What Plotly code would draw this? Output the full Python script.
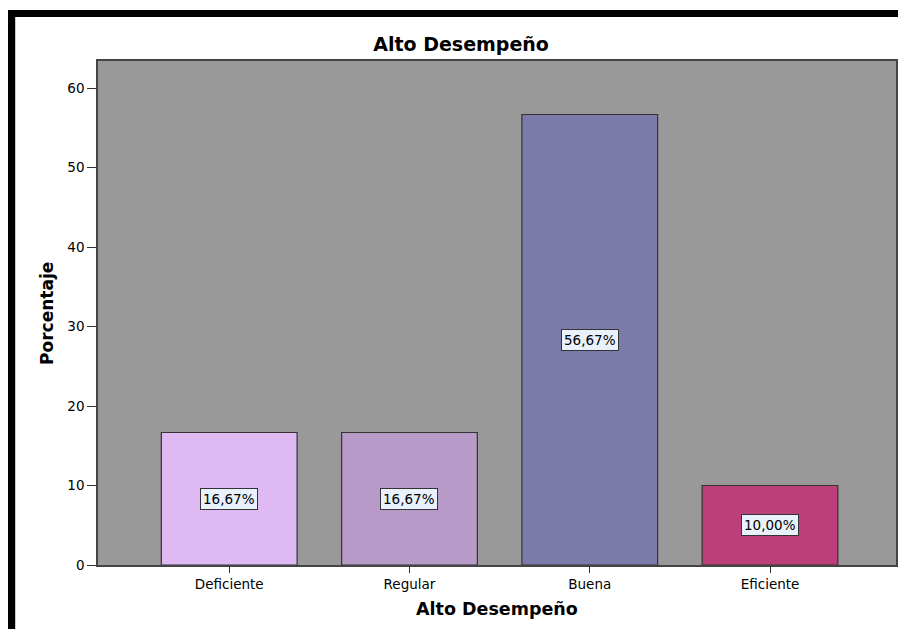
import plotly.graph_objects as go

categories = ["Deficiente", "Regular", "Buena", "Eficiente"]
percentages = [16.67, 16.67, 56.67, 10.00]
bar_colors = ["#dfb9f2", "#b89ac8", "#7b7ba9", "#bc3f79"]
labels = ["16,67%", "16,67%", "56,67%", "10,00%"]

FONT = "DejaVu Sans, Arial"

fig = go.Figure()
fig.add_trace(go.Bar(
    x=categories, y=percentages,
    marker=dict(color=bar_colors, line=dict(color="#333333", width=1.2)),
    hoverinfo="x+y",
))

# value boxes in the middle of each bar
for cat, val, lab in zip(categories, percentages, labels):
    fig.add_annotation(
        x=cat, y=val / 2, text=lab, showarrow=False,
        font=dict(family=FONT, size=13.5, color="#000000"),
        bgcolor="#e8f1fc", bordercolor="#333333", borderwidth=1, borderpad=2,
    )

# axis titles
fig.add_annotation(
    x=-0.064, y=0.5, xref="paper", yref="paper", text="<b>Porcentaje</b>",
    textangle=-90, showarrow=False, xanchor="center", yanchor="middle",
    font=dict(family=FONT, size=17, color="#000000"),
)
fig.add_annotation(
    x=0.5, y=-0.088, xref="paper", yref="paper", text="<b>Alto Desempeño</b>",
    showarrow=False, xanchor="center", yanchor="middle",
    font=dict(family=FONT, size=17.5, color="#000000"),
)

# black frame on top and left of the image
fig.add_shape(type="rect", xref="paper", yref="paper",
              x0=-0.11375, x1=1.05, y0=1.0873, y1=1.1012,
              fillcolor="#000000", line=dict(width=0))
fig.add_shape(type="rect", xref="paper", yref="paper",
              x0=-0.11375, x1=-0.10375, y0=-0.2, y1=1.1012,
              fillcolor="#000000", line=dict(width=0))

# page body adds an 8px margin, so the figure is kept inside the window
fig.update_layout(
    width=890, height=621,
    margin=dict(l=90, r=0, t=53, b=64),
    paper_bgcolor="#ffffff", plot_bgcolor="#999999",
    bargap=0.247, showlegend=False,
    font=dict(family=FONT, size=13.5, color="#000000"),
    title=dict(text="<b>Alto Desempeño</b>", xref="paper", x=0.455,
               xanchor="center", yref="container", y=0.941, yanchor="middle",
               font=dict(family=FONT, size=19, color="#000000")),
)
fig.update_xaxes(
    type="category", range=[-0.728, 3.699],
    showline=True, linecolor="#444444", linewidth=1.5, mirror=True,
    ticks="outside", ticklen=6, tickcolor="#333333", tickwidth=1.2,
    showgrid=False, zeroline=False,
    tickfont=dict(family=FONT, size=13.5, color="#000000"),
)
fig.update_yaxes(
    range=[0, 63.4], tickvals=[0, 10, 20, 30, 40, 50, 60],
    showline=True, linecolor="#444444", linewidth=1.5, mirror=True,
    ticks="outside", ticklen=9, tickcolor="#333333", tickwidth=1.2,
    showgrid=False, zeroline=False,
    tickfont=dict(family=FONT, size=13.5, color="#000000"),
)

fig.write_html("out.html")
